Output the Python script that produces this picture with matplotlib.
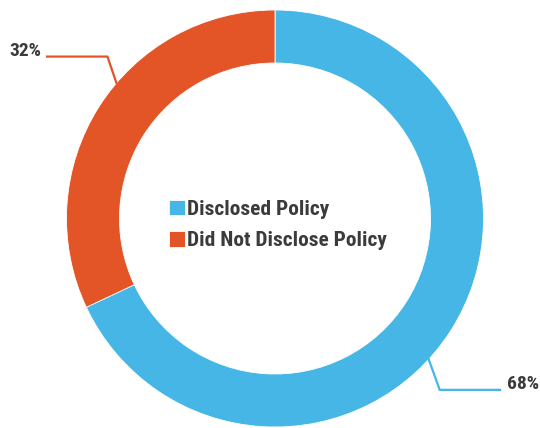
import numpy as np
import matplotlib
matplotlib.use('Agg')
import matplotlib.pyplot as plt

labels = ['Disclosed Policy', 'Did Not Disclose Policy']
shares = [68, 32]
colors = ['#45B6E6', '#E35426']
text_color = '#3b3b3b'

plt.rcParams['font.family'] = ['Roboto Condensed', 'DejaVu Sans']
plt.rcParams['font.weight'] = 'bold'
plt.rcParams['font.stretch'] = 'condensed'

cx, cy = 275, 209.5
outer_r = 208.5
ring = 53

fig = plt.figure(figsize=(5.4, 4.28), dpi=100)
ax = fig.add_axes([0, 0, 1, 1])

wedges, _ = ax.pie(shares, colors=colors, startangle=90, counterclock=False,
                   center=(cx, cy), radius=outer_r,
                   wedgeprops=dict(width=ring, linewidth=0.6, edgecolor='white'),
                   frame=True)
ax.set_xlim(0, 540)
ax.set_ylim(0, 428)
ax.set_aspect('equal')
ax.axis('off')

# leader lines: (angle on the rim, elbow offset, end x, label side)
leaders = [
    (-42.5, (11, -30.5), 500, 'left'),
    (139.5, (-9, 26.5), 47, 'right'),
]
for share, color, (ang, (ex, ey), end_x, side) in zip(shares, colors, leaders):
    a = np.deg2rad(ang)
    x0 = cx + outer_r * np.cos(a)
    y0 = cy + outer_r * np.sin(a)
    x1, y1 = x0 + ex, y0 + ey
    ax.plot([x0, x1, end_x], [y0, y1, y1], color=color, lw=1.6,
            solid_joinstyle='miter', clip_on=False)
    if side == 'left':
        ax.text(end_x + 7, y1 + 1, f'{share}%', ha='left', va='baseline',
                fontsize=14, color=text_color)
    else:
        ax.text(end_x - 6, y1 + 1, f'{share}%', ha='right', va='baseline',
                fontsize=14, color=text_color)

ax.legend(wedges, labels, loc='center left', bbox_to_anchor=(158, 203),
          bbox_transform=ax.transData, frameon=False, fontsize=15.4,
          handlelength=0.75, handleheight=0.75, handletextpad=0.12,
          labelspacing=0.55, borderpad=0, labelcolor=text_color)

fig.savefig('out.png', dpi=100)
